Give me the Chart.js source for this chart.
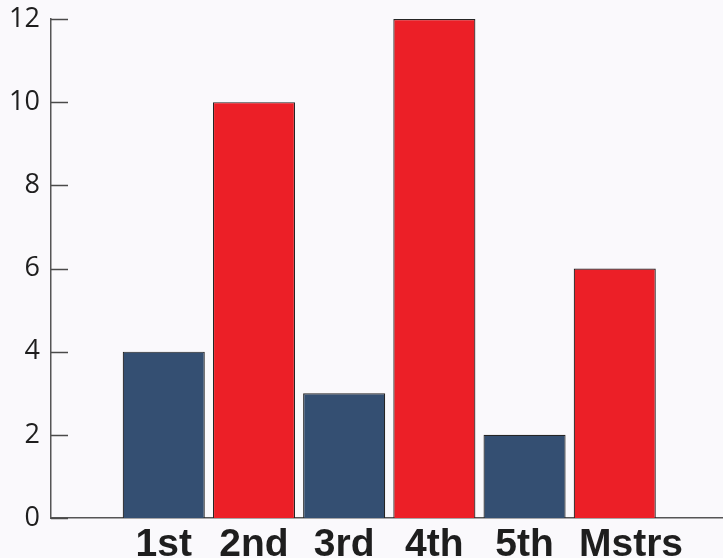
<!DOCTYPE html>
<html>
<head>
<meta charset="utf-8">
<script src="https://cdn.jsdelivr.net/npm/chart.js@4/dist/chart.umd.min.js"></script>
<style>
  html, body { margin: 0; padding: 0; background: #faf9fc; overflow: hidden; }
  #wrap { width: 723px; height: 558px; }
</style>
</head>
<body>
<div id="wrap"><canvas id="chart"></canvas></div>
<script>
// Bars by level
const categories = ['1st', '2nd', '3rd', '4th', '5th', 'Mstrs'];
const positions = [1, 2, 3, 4, 5, 6];
const values = [4, 10, 3, 12, 2, 6];
const barColors = ['#344f72', '#ec1f27', '#344f72', '#ec1f27', '#344f72', '#ec1f27'];
const yTicks = [0, 2, 4, 6, 8, 10, 12];
// where each category label sits (the last one is nudged right, as in the original)
const labelPositions = [1, 2, 3, 4, 5, 6.18];

// short inward tick marks on the y axis
const innerTicks = {
    id: 'innerTicks',
    afterDraw(chart) {
        const ctx = chart.ctx;
        const y = chart.scales.y;
        const left = chart.chartArea.left;
        ctx.save();
        ctx.strokeStyle = '#4a4a4a';
        ctx.lineWidth = 1.5;
        yTicks.forEach(v => {
            const py = Math.round(y.getPixelForValue(v)) + 0.5;
            ctx.beginPath();
            ctx.moveTo(left, py);
            ctx.lineTo(left + 17, py);
            ctx.stroke();
        });
        ctx.restore();
    }
};

new Chart(document.getElementById('chart'), {
    type: 'bar',
    data: {
        datasets: [{
            data: positions.map((x, i) => ({ x: x, y: values[i] })),
            backgroundColor: barColors,
            borderColor: '#252525',
            borderWidth: 1.2,
            barPercentage: 0.91,
            categoryPercentage: 1
        }]
    },
    options: {
        responsive: true,
        maintainAspectRatio: false,
        animation: false,
        layout: { padding: { top: 19, right: 0, left: 0, bottom: 0 } },
        plugins: { legend: { display: false }, tooltip: { enabled: false } },
        scales: {
            x: {
                type: 'linear',
                offset: false,
                min: -0.25,
                max: 7.2,
                afterBuildTicks: scale => { scale.ticks = labelPositions.map(v => ({ value: v })); },
                afterFit: scale => {
                    scale.height = 40;
                    scale.paddingLeft = 0;
                    scale.paddingRight = 0;
                },
                grid: { display: false, drawTicks: false },
                border: { display: true, color: '#555', width: 1.5 },
                ticks: {
                    color: '#1e1e1e',
                    padding: 4,
                    maxRotation: 0,
                    autoSkip: false,
                    font: { family: 'Liberation Sans, Arial, sans-serif', size: 39, weight: 'bold' },
                    callback: v => categories[labelPositions.indexOf(v)] || ''
                }
            },
            y: {
                min: 0,
                max: 12,
                afterBuildTicks: scale => { scale.ticks = yTicks.map(v => ({ value: v })); },
                afterFit: scale => {
                    scale.width = 51;
                    scale.paddingTop = 0;
                    scale.paddingBottom = 0;
                },
                grid: { display: false, drawTicks: false },
                border: { display: true, color: '#555', width: 1.5 },
                ticks: {
                    color: '#1e1e1e',
                    padding: 11,
                    font: { family: 'Open Sans, sans-serif', size: 27 }
                }
            }
        }
    },
    plugins: [innerTicks]
});
</script>
</body>
</html>
